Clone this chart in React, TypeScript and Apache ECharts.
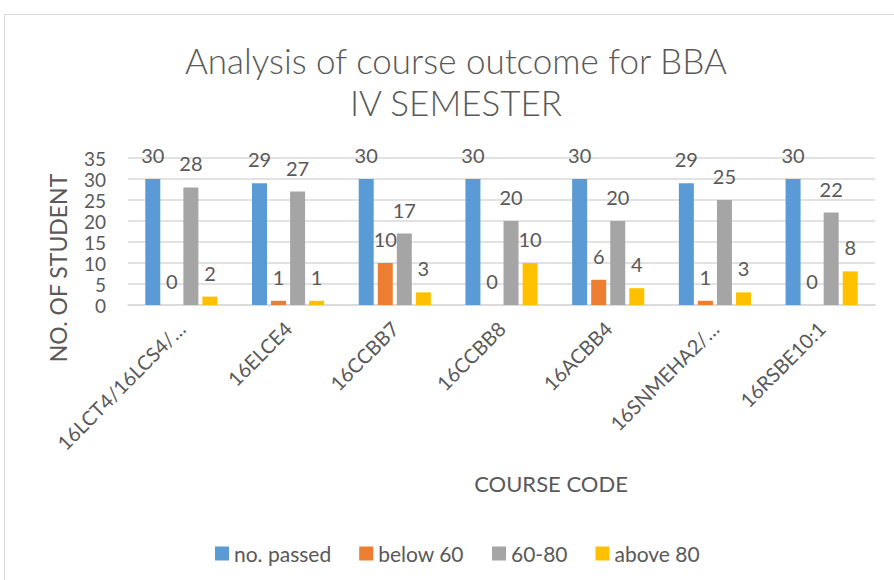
import React, { useEffect, useRef } from "react";
import * as echarts from "echarts";

const categories = [
  "16LCT4/16LCS4/…",
  "16ELCE4",
  "16CCBB7",
  "16CCBB8",
  "16ACBB4",
  "16SNMEHA2/…",
  "16RSBE10:1",
];
const passed = [30, 29, 30, 30, 30, 29, 30];
const below60 = [0, 1, 10, 0, 6, 1, 0];
const mid6080 = [28, 27, 17, 20, 20, 25, 22];
const above80 = [2, 1, 3, 10, 4, 3, 8];
const seriesNames = ["no. passed", "below 60", "60-80", "above 80"];
const colors = ["#5b9bd5", "#ed7d31", "#a5a5a5", "#ffc000"];

const FONT = "Lato";
const TXT = "#595959";

export default function App() {
  const ref = useRef<HTMLDivElement>(null);
  useEffect(() => {
    if (!ref.current) return;
    const chart = echarts.init(ref.current, null, { renderer: "svg" });
    const data = [passed, below60, mid6080, above80];
    const txt = (text: string, x: number, y: number, size: number, weight: string, rot = 0) => ({
      type: "text",
      x,
      y,
      rotation: rot,
      style: {
        text,
        fill: TXT,
        fontSize: size,
        fontFamily: FONT,
        fontWeight: weight,
        align: "center",
        verticalAlign: "middle",
      },
    });
    chart.setOption({
      animation: false,
      backgroundColor: "#ffffff",
      textStyle: { fontFamily: FONT },
      grid: { left: 128, right: 19, top: 158, bottom: 275, containLabel: false },
      legend: {
        left: 210,
        top: 538,
        icon: "rect",
        itemWidth: 14,
        itemHeight: 14,
        itemGap: 28,
        textStyle: { fontSize: 21, color: TXT, fontFamily: FONT },
        data: seriesNames,
      },
      graphic: [
        {
          type: "rect",
          shape: { x: 4.5, y: 14.5, width: 1000, height: 700 },
          style: { fill: "none", stroke: "#d9d9d9", lineWidth: 1 },
          silent: true,
        },
        txt("Analysis of course outcome for BBA", 456, 60, 35, "300"),
        txt("IV SEMESTER", 456, 102, 35, "300"),
        txt("NO. OF STUDENT", 58, 268, 23, "normal", Math.PI / 2),
        txt("COURSE CODE", 551, 483, 22, "normal"),
      ],
      xAxis: {
        type: "category",
        data: categories,
        axisLine: { lineStyle: { color: "#d9d9d9", width: 1.5 } },
        axisTick: { show: false },
        axisLabel: {
          rotate: 45,
          interval: 0,
          color: TXT,
          fontSize: 20,
          fontFamily: FONT,
          margin: 20,
          padding: [0, 0, 0, 0],
        },
      },
      yAxis: {
        type: "value",
        min: 0,
        max: 35,
        interval: 5,
        axisLine: { show: false },
        axisTick: { show: false },
        splitLine: { lineStyle: { color: "#d9d9d9", width: 1.5 } },
        axisLabel: { color: TXT, fontSize: 19, fontFamily: FONT, margin: 22 },
      },
      series: seriesNames.map((name, i) => ({
        name,
        type: "bar",
        data: data[i],
        barWidth: 15,
        barGap: "27%",
        itemStyle: { color: colors[i] },
        label: {
          show: true,
          position: "top",
          distance: 14,
          color: TXT,
          fontSize: 20,
          fontFamily: FONT,
        },
      })),
    });
    return () => chart.dispose();
  }, []);
  return (
    <div
      ref={ref}
      style={{ position: "fixed", left: 0, top: 0, width: 894, height: 580 }}
    />
  );
}
